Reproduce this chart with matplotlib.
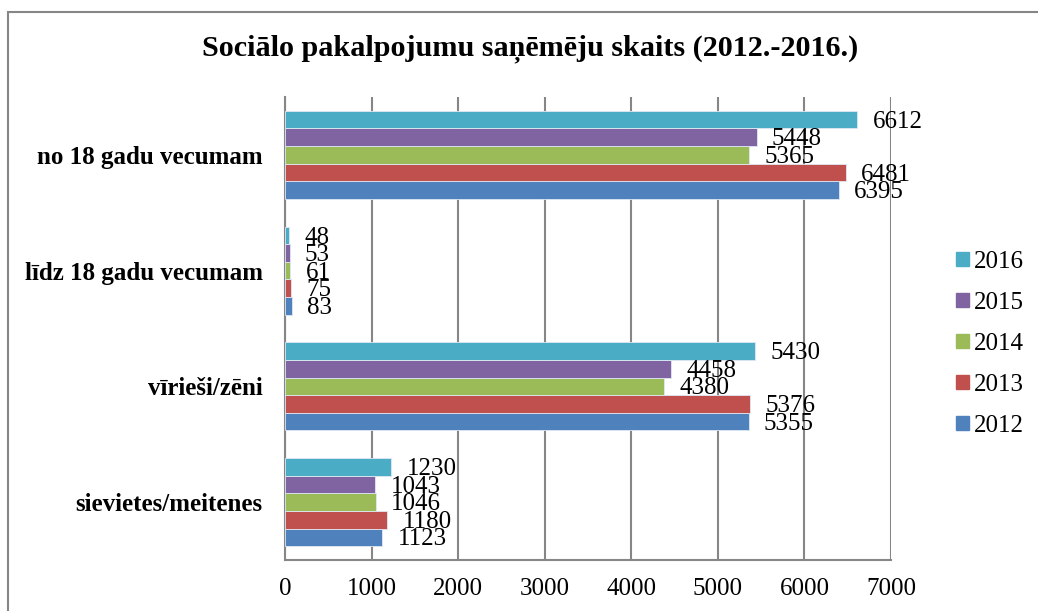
import matplotlib
matplotlib.use("Agg")
import matplotlib.pyplot as plt
import matplotlib.patches as mpatches
import numpy as np

plt.rcParams['font.family'] = ['Liberation Serif', 'DejaVu Serif']

categories = ["sievietes/meitenes", "vīrieši/zēni", "līdz 18 gadu vecumam", "no 18 gadu vecumam"]
years = ["2012", "2013", "2014", "2015", "2016"]
values = {
    "2012": [1123, 5355, 83, 6395],
    "2013": [1180, 5376, 75, 6481],
    "2014": [1046, 4380, 61, 5365],
    "2015": [1043, 4458, 53, 5448],
    "2016": [1230, 5430, 48, 6612],
}
colors = {
    "2012": "#4F81BD",
    "2013": "#C0504D",
    "2014": "#9BBB59",
    "2015": "#8064A2",
    "2016": "#4BACC6",
}
xticks = [0, 1000, 2000, 3000, 4000, 5000, 6000, 7000]
title = "Sociālo pakalpojumu saņēmēju skaits (2012.-2016.)"

W, H = 1038, 611
fig = plt.figure(figsize=(W / 100, H / 100), dpi=100)
ax = fig.add_axes([285 / W, 1 - 560 / H, (891 - 285) / W, (560 - 97) / H])

bar_h = 0.152
y = np.arange(len(categories))
for i, yr in enumerate(years):
    offs = (i - 2) * bar_h
    bars = ax.barh(y + offs, values[yr], height=bar_h, color=colors[yr],
                   edgecolor="#dfe8f3", linewidth=0.6, label=yr, zorder=3)
    for b, v in zip(bars, values[yr]):
        ax.annotate(str(v), xy=(v, b.get_y() + b.get_height() / 2),
                    xytext=(11, -1.5), textcoords="offset points",
                    ha="left", va="center", fontsize=18, zorder=5,
                    annotation_clip=False)

ax.set_xlim(0, 7000)
ax.set_ylim(-0.5, len(categories) - 0.5)
ax.set_xticks(xticks)
ax.set_xticklabels([str(t) for t in xticks], fontsize=18)
ax.set_yticks(y)
ax.set_yticklabels(categories, fontsize=18, fontweight="bold")
ax.tick_params(axis="both", length=0)
ax.tick_params(axis="x", pad=13)
ax.tick_params(axis="y", pad=16)
ax.xaxis.grid(True, color="#868686", linewidth=1.5, zorder=0)
ax.set_axisbelow(True)
for s in ["top", "right"]:
    ax.spines[s].set_visible(False)
for s in ["left", "bottom"]:
    ax.spines[s].set_color("#868686")
    ax.spines[s].set_linewidth(1.5)

fig.text(530 / W, 1 - 49 / H, title, ha="center", va="center",
         fontsize=21.7, fontweight="bold")

handles = [mpatches.Patch(color=colors[yr], label=yr) for yr in years[::-1]]
leg = fig.legend(handles=handles, loc="center left",
                 bbox_to_anchor=(956 / W, 1 - 344 / H), frameon=False,
                 fontsize=18, handlelength=0.52, handleheight=0.52,
                 handletextpad=0.2, labelspacing=0.76,
                 borderaxespad=0, borderpad=0)

border = mpatches.Rectangle((8 / W, -0.5), 2.0, 1 - 12 / H + 0.5,
                            transform=fig.transFigure, fill=False,
                            edgecolor="#868686", linewidth=1.5)
fig.patches.append(border)

fig.savefig("out.png", dpi=100)
